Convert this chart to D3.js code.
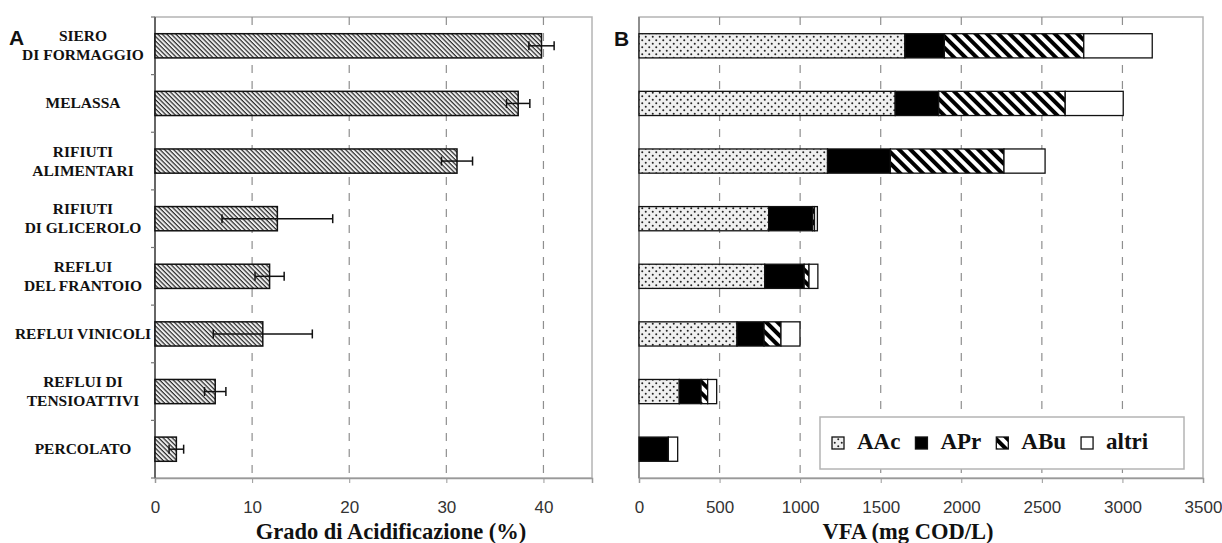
<!DOCTYPE html>
<html>
<head>
<meta charset="utf-8">
<script src="https://cdn.jsdelivr.net/npm/d3@7"></script>
<style>
  body { margin: 0; background: #fff; }
  svg { display: block; }
  .lab { font-family: "Liberation Serif", "Times New Roman", serif; font-weight: bold; fill: #111; }
  .tick text { font-family: "Liberation Sans", Arial, sans-serif; font-size: 17px; fill: #333; }
  .panel { font-family: "Liberation Sans", Arial, sans-serif; font-weight: bold; font-size: 21px; fill: #111; }
</style>
</head>
<body>
<div id="chart"></div>
<script>
const W = 1222, H = 543;

// categories (top to bottom)
const categories = [
  ["SIERO", "DI FORMAGGIO"],
  ["MELASSA"],
  ["RIFIUTI", "ALIMENTARI"],
  ["RIFIUTI", "DI GLICEROLO"],
  ["REFLUI", "DEL FRANTOIO"],
  ["REFLUI VINICOLI"],
  ["REFLUI DI", "TENSIOATTIVI"],
  ["PERCOLATO"]
];

// panel A: grado di acidificazione (%) and error
const acidification = [39.8, 37.4, 31.1, 12.6, 11.8, 11.1, 6.2, 2.2];
const acidErr = [1.3, 1.2, 1.6, 5.7, 1.5, 5.1, 1.1, 0.75];
const ticksA = [0, 10, 20, 30, 40];

// panel B: VFA (mg COD/L) by acid
const vfaKeys = ["AAc", "APr", "ABu", "altri"];
const aac   = [1650, 1590, 1170, 805, 780, 608, 250, 0];
const apr   = [245, 270, 390, 272, 245, 168, 135, 182];
const abu   = [865, 785, 705, 12, 30, 105, 41, 0];
const altri = [425, 360, 255, 18, 55, 118, 56, 58];
const ticksB = [0, 500, 1000, 1500, 2000, 2500, 3000, 3500];

const catKeys = categories.map(c => c.join(" "));

const svg = d3.select("#chart").append("svg")
  .attr("width", W)
  .attr("height", H);

// patterns
const defs = svg.append("defs");

const hatchA = defs.append("pattern")
  .attr("id", "hatchA")
  .attr("patternUnits", "userSpaceOnUse")
  .attr("width", 3.2).attr("height", 3.2)
  .attr("patternTransform", "rotate(-45)");
hatchA.append("rect").attr("width", 3.2).attr("height", 3.2).attr("fill", "#eeeeee");
hatchA.append("line").attr("x1", 1).attr("y1", 0).attr("x2", 1).attr("y2", 3.2)
  .attr("stroke", "#2a2a2a").attr("stroke-width", 1.2);

const dots = defs.append("pattern")
  .attr("id", "dots")
  .attr("patternUnits", "userSpaceOnUse")
  .attr("width", 7).attr("height", 7);
dots.append("rect").attr("width", 7).attr("height", 7).attr("fill", "#f0f0f0");
dots.append("circle").attr("cx", 1.75).attr("cy", 1.75).attr("r", 1).attr("fill", "#222");
dots.append("circle").attr("cx", 5.25).attr("cy", 5.25).attr("r", 1).attr("fill", "#222");

const stripes = defs.append("pattern")
  .attr("id", "stripes")
  .attr("patternUnits", "userSpaceOnUse")
  .attr("width", 8).attr("height", 8)
  .attr("patternTransform", "rotate(-45)");
stripes.append("rect").attr("width", 8).attr("height", 8).attr("fill", "#fff");
stripes.append("rect").attr("x", 0).attr("width", 4).attr("height", 8).attr("fill", "#000");

const fills = { AAc: "url(#dots)", APr: "#000", ABu: "url(#stripes)", altri: "#fff" };

// shared y scale
const y = d3.scaleBand()
  .domain(catKeys)
  .range([17, 478])
  .paddingInner(0.58)
  .paddingOuter(0.29);

// ---------- panel A ----------
const xA = d3.scaleLinear().domain([0, 45]).range([155, 592]);

const gA = svg.append("g");

gA.append("rect")
  .attr("x", xA(0)).attr("y", 17)
  .attr("width", xA(45) - xA(0)).attr("height", 478 - 17)
  .attr("fill", "none").attr("stroke", "#b4b4b4").attr("stroke-width", 1.5);

gA.selectAll(".grid")
  .data(ticksA.slice(1))
  .join("line")
  .attr("x1", d => xA(d)).attr("x2", d => xA(d))
  .attr("y1", 17).attr("y2", 478)
  .attr("stroke", "#8f8f8f").attr("stroke-width", 1.2)
  .attr("stroke-dasharray", "8 8");

gA.append("g")
  .attr("transform", "translate(0,478)")
  .call(d3.axisBottom(xA).tickValues(ticksA).tickSize(5).tickPadding(18))
  .call(g => g.select(".domain").attr("stroke", "#999").attr("stroke-width", 1.5))
  .call(g => g.selectAll(".tick line").attr("stroke", "#999"));

gA.append("line")
  .attr("x1", xA(0)).attr("x2", xA(0)).attr("y1", 17).attr("y2", 478)
  .attr("stroke", "#666").attr("stroke-width", 2);

// category separator ticks on left axis
gA.selectAll(".ctick")
  .data(d3.range(catKeys.length + 1))
  .join("line")
  .attr("x1", xA(0) - 4).attr("x2", xA(0))
  .attr("y1", i => 17 + i * y.step()).attr("y2", i => 17 + i * y.step())
  .attr("stroke", "#777").attr("stroke-width", 1.2);

gA.selectAll(".barA")
  .data(catKeys)
  .join("rect")
  .attr("x", xA(0))
  .attr("y", d => y(d))
  .attr("width", (d, i) => xA(acidification[i]) - xA(0))
  .attr("height", y.bandwidth())
  .attr("fill", "url(#hatchA)")
  .attr("stroke", "#111").attr("stroke-width", 1.5);

const err = gA.selectAll(".err")
  .data(catKeys)
  .join("g")
  .attr("transform", d => `translate(0,${y(d) + y.bandwidth() / 2})`)
  .attr("stroke", "#111").attr("stroke-width", 1.5);
err.append("line")
  .attr("x1", (d, i) => xA(acidification[i] - acidErr[i]))
  .attr("x2", (d, i) => xA(acidification[i] + acidErr[i]));
err.append("line")
  .attr("x1", (d, i) => xA(acidification[i] - acidErr[i]))
  .attr("x2", (d, i) => xA(acidification[i] - acidErr[i]))
  .attr("y1", -4.5).attr("y2", 4.5);
err.append("line")
  .attr("x1", (d, i) => xA(acidification[i] + acidErr[i]))
  .attr("x2", (d, i) => xA(acidification[i] + acidErr[i]))
  .attr("y1", -4.5).attr("y2", 4.5);

// category labels
categories.forEach((lines, i) => {
  const cy = y(catKeys[i]) + y.bandwidth() / 2;
  const t = svg.append("text")
    .attr("class", "lab")
    .attr("text-anchor", "middle")
    .attr("font-size", 15.5);
  lines.forEach((s, j) => {
    const off = lines.length === 1 ? 5 : (j === 0 ? -4.5 : 14.5);
    t.append("tspan").attr("x", 83).attr("y", cy + off).text(s);
  });
});

svg.append("text").attr("class", "lab").attr("font-size", 22.5)
  .attr("x", 391).attr("y", 539).attr("text-anchor", "middle")
  .text("Grado di Acidificazione (%)");

svg.append("text").attr("class", "panel").attr("x", 9).attr("y", 45).text("A");

// ---------- panel B ----------
const xB = d3.scaleLinear().domain([0, 3500]).range([639, 1203]);

const gB = svg.append("g");

gB.append("rect")
  .attr("x", xB(0)).attr("y", 17)
  .attr("width", xB(3500) - xB(0)).attr("height", 478 - 17)
  .attr("fill", "none").attr("stroke", "#b4b4b4").attr("stroke-width", 1.5);

gB.selectAll(".grid")
  .data(ticksB.slice(1, -1))
  .join("line")
  .attr("x1", d => xB(d)).attr("x2", d => xB(d))
  .attr("y1", 17).attr("y2", 478)
  .attr("stroke", "#8f8f8f").attr("stroke-width", 1.2)
  .attr("stroke-dasharray", "8 8");

gB.append("g")
  .attr("transform", "translate(0,478)")
  .call(d3.axisBottom(xB).tickValues(ticksB).tickSize(5).tickPadding(18).tickFormat(d3.format("d")))
  .call(g => g.select(".domain").attr("stroke", "#999").attr("stroke-width", 1.5))
  .call(g => g.selectAll(".tick line").attr("stroke", "#999"));

gB.append("line")
  .attr("x1", xB(0)).attr("x2", xB(0)).attr("y1", 17).attr("y2", 478)
  .attr("stroke", "#888").attr("stroke-width", 1.8);

const table = catKeys.map((k, i) => ({
  cat: k, AAc: aac[i], APr: apr[i], ABu: abu[i], altri: altri[i]
}));
const series = d3.stack().keys(vfaKeys)(table);

gB.selectAll(".layer")
  .data(series)
  .join("g")
  .attr("fill", d => fills[d.key])
  .selectAll("rect")
  .data(d => d.filter(p => p[1] > p[0]))
  .join("rect")
  .attr("x", d => xB(d[0]))
  .attr("y", d => y(d.data.cat))
  .attr("width", d => xB(d[1]) - xB(d[0]))
  .attr("height", y.bandwidth())
  .attr("stroke", "#111").attr("stroke-width", 1.3);

// legend
const lg = svg.append("g");
lg.append("rect")
  .attr("x", 820).attr("y", 417).attr("width", 364).attr("height", 52)
  .attr("fill", "#fff").attr("stroke", "#b4b4b4").attr("stroke-width", 1.5);

let lx = 832;
vfaKeys.forEach(k => {
  lg.append("rect")
    .attr("x", lx).attr("y", 437).attr("width", 12).attr("height", 12)
    .attr("fill", fills[k]).attr("stroke", "#111").attr("stroke-width", 1.3);
  const t = lg.append("text").attr("class", "lab").attr("font-size", 23)
    .attr("x", lx + 25).attr("y", 449).text(k);
  lx += 25 + t.node().getComputedTextLength() + 15;
});

svg.append("text").attr("class", "lab").attr("font-size", 22.5)
  .attr("x", 908).attr("y", 539).attr("text-anchor", "middle")
  .text("VFA (mg COD/L)");

svg.append("text").attr("class", "panel").attr("x", 614).attr("y", 46).text("B");
</script>
</body>
</html>
